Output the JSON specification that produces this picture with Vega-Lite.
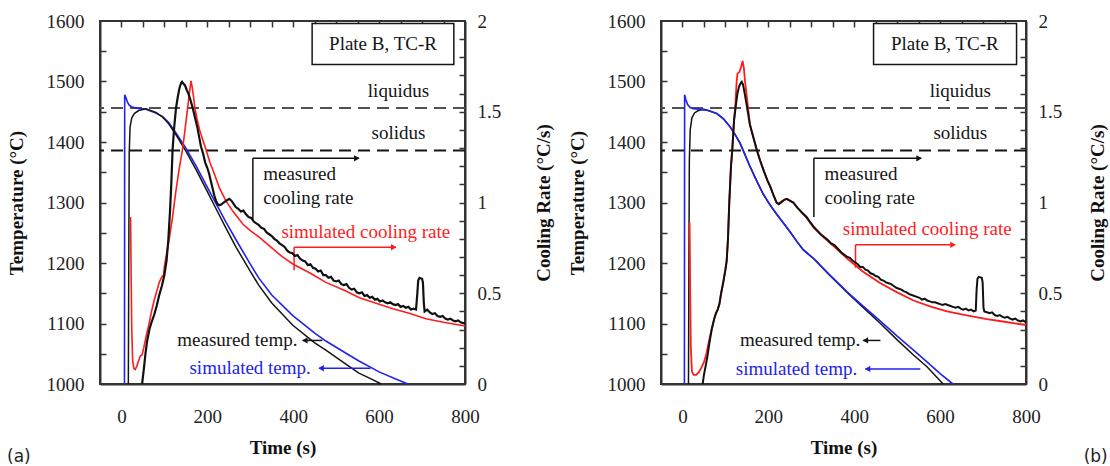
{
"$schema": "https://vega.github.io/schema/vega-lite/v6.json",
"padding": {"left": 6, "top": 11, "right": 0, "bottom": 0},
"spacing": 12,
"config": {
 "view": {"stroke": "#333333", "strokeWidth": 2},
 "font": "Liberation Serif",
 "axis": {"grid": false, "domainColor": "#333333", "domainWidth": 2, "tickColor": "#333333", "tickWidth": 1.5, "labelFont": "Liberation Serif", "labelFontSize": 19, "labelColor": "#222222", "titleFont": "Liberation Serif", "titleFontSize": 19, "titleFontWeight": "bold", "titleColor": "#111111", "labelFlush": false},
 "text": {"font": "Liberation Serif", "fontSize": 19},
 "title": {"font": "DejaVu Sans", "fontSize": 17, "fontWeight": "normal", "color": "#222222"}
},
"datasets": {
 "tempA": [
  {"t":7,"T":1000,"s":"sT"},{"t":7.5,"T":1478,"s":"sT"},{"t":10,"T":1474,"s":"sT"},{"t":14,"T":1466,"s":"sT"},{"t":18,"T":1461,"s":"sT"},{"t":24,"T":1458,"s":"sT"},{"t":35,"T":1456,"s":"sT"},{"t":57,"T":1454,"s":"sT"},{"t":80,"T":1448,"s":"sT"},{"t":96,"T":1442,"s":"sT"},{"t":110,"T":1432,"s":"sT"},{"t":127,"T":1415,"s":"sT"},{"t":150,"T":1390,"s":"sT"},{"t":174,"T":1360,"s":"sT"},{"t":200,"T":1325,"s":"sT"},{"t":225,"T":1292,"s":"sT"},{"t":243,"T":1268,"s":"sT"},{"t":267,"T":1238,"s":"sT"},{"t":300,"T":1198,"s":"sT"},{"t":320,"T":1175,"s":"sT"},{"t":350,"T":1147,"s":"sT"},{"t":399,"T":1113,"s":"sT"},{"t":450,"T":1084,"s":"sT"},{"t":476,"T":1071,"s":"sT"},{"t":520,"T":1052,"s":"sT"},{"t":553,"T":1038,"s":"sT"},{"t":600,"T":1020,"s":"sT"},{"t":640,"T":1008,"s":"sT"},{"t":667,"T":1000,"s":"sT"},
  {"t":16,"T":1000,"s":"mT"},{"t":17,"T":1200,"s":"mT"},{"t":18,"T":1380,"s":"mT"},{"t":20,"T":1425,"s":"mT"},{"t":24,"T":1440,"s":"mT"},{"t":30,"T":1447,"s":"mT"},{"t":40,"T":1452,"s":"mT"},{"t":57,"T":1455,"s":"mT"},{"t":80,"T":1449,"s":"mT"},{"t":96,"T":1441,"s":"mT"},{"t":110,"T":1430,"s":"mT"},{"t":127,"T":1412,"s":"mT"},{"t":150,"T":1385,"s":"mT"},{"t":174,"T":1354,"s":"mT"},{"t":200,"T":1318,"s":"mT"},{"t":225,"T":1283,"s":"mT"},{"t":243,"T":1258,"s":"mT"},{"t":267,"T":1226,"s":"mT"},{"t":300,"T":1186,"s":"mT"},{"t":320,"T":1163,"s":"mT"},{"t":350,"T":1134,"s":"mT"},{"t":399,"T":1097,"s":"mT"},{"t":450,"T":1068,"s":"mT"},{"t":476,"T":1056,"s":"mT"},{"t":520,"T":1034,"s":"mT"},{"t":553,"T":1018,"s":"mT"},{"t":580,"T":1009,"s":"mT"},{"t":605,"T":1000,"s":"mT"}
 ],
 "crA": [
  {"t":21,"CR":0.92,"s":"sCR"},{"t":21.5,"CR":0.85,"s":"sCR"},{"t":22.5,"CR":0.6,"s":"sCR"},{"t":24,"CR":0.3,"s":"sCR"},{"t":26,"CR":0.13,"s":"sCR"},{"t":29,"CR":0.085,"s":"sCR"},{"t":32,"CR":0.08,"s":"sCR"},{"t":36,"CR":0.1,"s":"sCR"},{"t":40,"CR":0.13,"s":"sCR"},{"t":44,"CR":0.155,"s":"sCR"},{"t":48,"CR":0.16,"s":"sCR"},{"t":52,"CR":0.2,"s":"sCR"},{"t":58,"CR":0.27,"s":"sCR"},{"t":64,"CR":0.33,"s":"sCR"},{"t":70,"CR":0.4,"s":"sCR"},{"t":76,"CR":0.46,"s":"sCR"},{"t":82,"CR":0.51,"s":"sCR"},{"t":88,"CR":0.56,"s":"sCR"},{"t":94,"CR":0.59,"s":"sCR"},{"t":98,"CR":0.6,"s":"sCR"},{"t":100,"CR":0.65,"s":"sCR"},{"t":106,"CR":0.73,"s":"sCR"},{"t":112,"CR":0.81,"s":"sCR"},{"t":119,"CR":0.92,"s":"sCR"},{"t":126,"CR":1.05,"s":"sCR"},{"t":134,"CR":1.18,"s":"sCR"},{"t":142,"CR":1.29,"s":"sCR"},{"t":148,"CR":1.4,"s":"sCR"},{"t":154,"CR":1.52,"s":"sCR"},{"t":158,"CR":1.6,"s":"sCR"},{"t":162,"CR":1.67,"s":"sCR"},{"t":165,"CR":1.63,"s":"sCR"},{"t":168,"CR":1.58,"s":"sCR"},{"t":171,"CR":1.52,"s":"sCR"},{"t":176,"CR":1.46,"s":"sCR"},{"t":182,"CR":1.4,"s":"sCR"},{"t":190,"CR":1.34,"s":"sCR"},{"t":197,"CR":1.29,"s":"sCR"},{"t":206,"CR":1.22,"s":"sCR"},{"t":216,"CR":1.16,"s":"sCR"},{"t":228,"CR":1.08,"s":"sCR"},{"t":243,"CR":1.01,"s":"sCR"},{"t":260,"CR":0.95,"s":"sCR"},{"t":283,"CR":0.88,"s":"sCR"},{"t":300,"CR":0.845,"s":"sCR"},{"t":320,"CR":0.81,"s":"sCR"},{"t":350,"CR":0.75,"s":"sCR"},{"t":375,"CR":0.7,"s":"sCR"},{"t":400,"CR":0.66,"s":"sCR"},{"t":440,"CR":0.61,"s":"sCR"},{"t":476,"CR":0.56,"s":"sCR"},{"t":520,"CR":0.515,"s":"sCR"},{"t":554,"CR":0.475,"s":"sCR"},{"t":600,"CR":0.44,"s":"sCR"},{"t":632,"CR":0.415,"s":"sCR"},{"t":670,"CR":0.39,"s":"sCR"},{"t":709,"CR":0.36,"s":"sCR"},{"t":750,"CR":0.34,"s":"sCR"},{"t":800,"CR":0.32,"s":"sCR"},
  {"t":48,"CR":0,"s":"mCR"},{"t":52,"CR":0.08,"s":"mCR"},{"t":56,"CR":0.17,"s":"mCR"},{"t":60,"CR":0.24,"s":"mCR"},{"t":65,"CR":0.3,"s":"mCR"},{"t":70,"CR":0.34,"s":"mCR"},{"t":76,"CR":0.38,"s":"mCR"},{"t":82,"CR":0.43,"s":"mCR"},{"t":88,"CR":0.49,"s":"mCR"},{"t":94,"CR":0.54,"s":"mCR"},{"t":100,"CR":0.6,"s":"mCR"},{"t":105,"CR":0.68,"s":"mCR"},{"t":109,"CR":0.79,"s":"mCR"},{"t":113,"CR":0.95,"s":"mCR"},{"t":116,"CR":1.1,"s":"mCR"},{"t":119,"CR":1.29,"s":"mCR"},{"t":123,"CR":1.42,"s":"mCR"},{"t":127,"CR":1.52,"s":"mCR"},{"t":131,"CR":1.58,"s":"mCR"},{"t":135,"CR":1.63,"s":"mCR"},{"t":139,"CR":1.66,"s":"mCR"},{"t":141,"CR":1.665,"s":"mCR"},{"t":144,"CR":1.655,"s":"mCR"},{"t":148,"CR":1.645,"s":"mCR"},{"t":152,"CR":1.62,"s":"mCR"},{"t":156,"CR":1.6,"s":"mCR"},{"t":160,"CR":1.57,"s":"mCR"},{"t":166,"CR":1.52,"s":"mCR"},{"t":172,"CR":1.46,"s":"mCR"},{"t":177,"CR":1.41,"s":"mCR"},{"t":181,"CR":1.36,"s":"mCR"},{"t":185,"CR":1.31,"s":"mCR"},{"t":190,"CR":1.27,"s":"mCR"},{"t":195,"CR":1.22,"s":"mCR"},{"t":200,"CR":1.19,"s":"mCR"},{"t":204,"CR":1.16,"s":"mCR"},{"t":208,"CR":1.12,"s":"mCR"},{"t":212,"CR":1.08,"s":"mCR"},{"t":216,"CR":1.04,"s":"mCR"},{"t":220,"CR":1.01,"s":"mCR"},{"t":224,"CR":0.99,"s":"mCR"},{"t":228,"CR":0.985,"s":"mCR"},{"t":233,"CR":0.99,"s":"mCR"},{"t":238,"CR":1.0,"s":"mCR"},{"t":244,"CR":1.01,"s":"mCR"},{"t":251,"CR":1.02,"s":"mCR"},{"t":256,"CR":1.01,"s":"mCR"},{"t":262,"CR":0.99,"s":"mCR"},
  {"t":266,"CR":0.975,"s":"mCR"},{"t":272,"CR":0.965,"s":"mCR"},{"t":278,"CR":0.95,"s":"mCR"},{"t":284,"CR":0.955,"s":"mCR"},{"t":290,"CR":0.935,"s":"mCR"},{"t":296,"CR":0.92,"s":"mCR"},{"t":302,"CR":0.915,"s":"mCR"},{"t":308,"CR":0.895,"s":"mCR"},{"t":314,"CR":0.885,"s":"mCR"},{"t":320,"CR":0.875,"s":"mCR"},{"t":326,"CR":0.86,"s":"mCR"},{"t":332,"CR":0.855,"s":"mCR"},{"t":338,"CR":0.835,"s":"mCR"},{"t":344,"CR":0.825,"s":"mCR"},{"t":350,"CR":0.815,"s":"mCR"},{"t":356,"CR":0.8,"s":"mCR"},{"t":362,"CR":0.79,"s":"mCR"},{"t":368,"CR":0.775,"s":"mCR"},{"t":374,"CR":0.765,"s":"mCR"},{"t":380,"CR":0.755,"s":"mCR"},{"t":386,"CR":0.735,"s":"mCR"},{"t":392,"CR":0.725,"s":"mCR"},{"t":398,"CR":0.72,"s":"mCR"},{"t":404,"CR":0.705,"s":"mCR"},{"t":410,"CR":0.71,"s":"mCR"},{"t":416,"CR":0.69,"s":"mCR"},{"t":422,"CR":0.68,"s":"mCR"},{"t":428,"CR":0.675,"s":"mCR"},{"t":434,"CR":0.655,"s":"mCR"},{"t":440,"CR":0.66,"s":"mCR"},{"t":446,"CR":0.64,"s":"mCR"},{"t":452,"CR":0.635,"s":"mCR"},{"t":458,"CR":0.62,"s":"mCR"},{"t":464,"CR":0.625,"s":"mCR"},{"t":470,"CR":0.6,"s":"mCR"},{"t":476,"CR":0.6,"s":"mCR"},{"t":482,"CR":0.585,"s":"mCR"},{"t":488,"CR":0.59,"s":"mCR"},{"t":494,"CR":0.57,"s":"mCR"},{"t":500,"CR":0.565,"s":"mCR"},{"t":506,"CR":0.57,"s":"mCR"},{"t":512,"CR":0.55,"s":"mCR"},{"t":518,"CR":0.545,"s":"mCR"},{"t":524,"CR":0.55,"s":"mCR"},{"t":530,"CR":0.53,"s":"mCR"},{"t":536,"CR":0.52,"s":"mCR"},{"t":542,"CR":0.525,"s":"mCR"},{"t":548,"CR":0.505,"s":"mCR"},{"t":554,"CR":0.5,"s":"mCR"},{"t":560,"CR":0.505,"s":"mCR"},{"t":566,"CR":0.485,"s":"mCR"},{"t":572,"CR":0.49,"s":"mCR"},{"t":578,"CR":0.475,"s":"mCR"},{"t":584,"CR":0.48,"s":"mCR"},{"t":590,"CR":0.465,"s":"mCR"},{"t":596,"CR":0.47,"s":"mCR"},{"t":602,"CR":0.455,"s":"mCR"},{"t":608,"CR":0.46,"s":"mCR"},{"t":614,"CR":0.45,"s":"mCR"},{"t":620,"CR":0.445,"s":"mCR"},{"t":626,"CR":0.45,"s":"mCR"},{"t":632,"CR":0.44,"s":"mCR"},{"t":638,"CR":0.435,"s":"mCR"},{"t":644,"CR":0.44,"s":"mCR"},{"t":650,"CR":0.425,"s":"mCR"},{"t":656,"CR":0.43,"s":"mCR"},{"t":662,"CR":0.42,"s":"mCR"},{"t":668,"CR":0.425,"s":"mCR"},{"t":674,"CR":0.41,"s":"mCR"},{"t":680,"CR":0.415,"s":"mCR"},{"t":686,"CR":0.41,"s":"mCR"},{"t":689,"CR":0.5,"s":"mCR"},{"t":691,"CR":0.57,"s":"mCR"},{"t":694,"CR":0.585,"s":"mCR"},{"t":700,"CR":0.58,"s":"mCR"},{"t":702,"CR":0.56,"s":"mCR"},{"t":704,"CR":0.45,"s":"mCR"},{"t":706,"CR":0.4,"s":"mCR"},{"t":712,"CR":0.41,"s":"mCR"},{"t":718,"CR":0.395,"s":"mCR"},{"t":724,"CR":0.385,"s":"mCR"},{"t":730,"CR":0.39,"s":"mCR"},{"t":736,"CR":0.375,"s":"mCR"},{"t":742,"CR":0.37,"s":"mCR"},{"t":748,"CR":0.375,"s":"mCR"},{"t":754,"CR":0.36,"s":"mCR"},{"t":760,"CR":0.355,"s":"mCR"},{"t":766,"CR":0.36,"s":"mCR"},{"t":772,"CR":0.35,"s":"mCR"},{"t":778,"CR":0.345,"s":"mCR"},{"t":784,"CR":0.35,"s":"mCR"},{"t":790,"CR":0.34,"s":"mCR"},{"t":796,"CR":0.335,"s":"mCR"},{"t":800,"CR":0.335,"s":"mCR"}
 ],
 "tempB": [
  {"t":4.5,"T":1000,"s":"sT"},{"t":5,"T":1478,"s":"sT"},{"t":8,"T":1470,"s":"sT"},{"t":12,"T":1462,"s":"sT"},{"t":18,"T":1457,"s":"sT"},{"t":25,"T":1455,"s":"sT"},{"t":37,"T":1454,"s":"sT"},{"t":60,"T":1452,"s":"sT"},{"t":80,"T":1447,"s":"sT"},{"t":96,"T":1438,"s":"sT"},{"t":111,"T":1425,"s":"sT"},{"t":122,"T":1413,"s":"sT"},{"t":134,"T":1398,"s":"sT"},{"t":145,"T":1380,"s":"sT"},{"t":157,"T":1360,"s":"sT"},{"t":172,"T":1337,"s":"sT"},{"t":188,"T":1314,"s":"sT"},{"t":203,"T":1297,"s":"sT"},{"t":219,"T":1281,"s":"sT"},{"t":235,"T":1266,"s":"sT"},{"t":250,"T":1252,"s":"sT"},{"t":265,"T":1237,"s":"sT"},{"t":281,"T":1222,"s":"sT"},{"t":306,"T":1207,"s":"sT"},{"t":340,"T":1182,"s":"sT"},{"t":384,"T":1152,"s":"sT"},{"t":420,"T":1129,"s":"sT"},{"t":461,"T":1104,"s":"sT"},{"t":500,"T":1079,"s":"sT"},{"t":538,"T":1056,"s":"sT"},{"t":570,"T":1036,"s":"sT"},{"t":600,"T":1017,"s":"sT"},{"t":630,"T":1000,"s":"sT"},
  {"t":14,"T":1000,"s":"mT"},{"t":15,"T":1200,"s":"mT"},{"t":16,"T":1370,"s":"mT"},{"t":18,"T":1420,"s":"mT"},{"t":22,"T":1440,"s":"mT"},{"t":28,"T":1448,"s":"mT"},{"t":37,"T":1452,"s":"mT"},{"t":50,"T":1454,"s":"mT"},{"t":60,"T":1452,"s":"mT"},{"t":80,"T":1447,"s":"mT"},{"t":96,"T":1438,"s":"mT"},{"t":111,"T":1425,"s":"mT"},{"t":122,"T":1413,"s":"mT"},{"t":134,"T":1398,"s":"mT"},{"t":145,"T":1380,"s":"mT"},{"t":157,"T":1360,"s":"mT"},{"t":172,"T":1337,"s":"mT"},{"t":188,"T":1314,"s":"mT"},{"t":203,"T":1297,"s":"mT"},{"t":219,"T":1281,"s":"mT"},{"t":235,"T":1266,"s":"mT"},{"t":250,"T":1252,"s":"mT"},{"t":265,"T":1237,"s":"mT"},{"t":281,"T":1222,"s":"mT"},{"t":306,"T":1207,"s":"mT"},{"t":340,"T":1182,"s":"mT"},{"t":384,"T":1151,"s":"mT"},{"t":420,"T":1127,"s":"mT"},{"t":461,"T":1100,"s":"mT"},{"t":500,"T":1073,"s":"mT"},{"t":538,"T":1048,"s":"mT"},{"t":570,"T":1028,"s":"mT"},{"t":607,"T":1000,"s":"mT"}
 ],
 "crB": [
  {"t":16.5,"CR":0.89,"s":"sCR"},{"t":17,"CR":0.8,"s":"sCR"},{"t":18,"CR":0.5,"s":"sCR"},{"t":19.5,"CR":0.2,"s":"sCR"},{"t":22,"CR":0.07,"s":"sCR"},{"t":26,"CR":0.05,"s":"sCR"},{"t":32,"CR":0.05,"s":"sCR"},{"t":38,"CR":0.065,"s":"sCR"},{"t":44,"CR":0.09,"s":"sCR"},{"t":50,"CR":0.12,"s":"sCR"},{"t":56,"CR":0.17,"s":"sCR"},{"t":62,"CR":0.24,"s":"sCR"},{"t":68,"CR":0.3,"s":"sCR"},{"t":74,"CR":0.36,"s":"sCR"},{"t":78,"CR":0.39,"s":"sCR"},{"t":82,"CR":0.41,"s":"sCR"},{"t":86,"CR":0.44,"s":"sCR"},{"t":90,"CR":0.5,"s":"sCR"},{"t":95,"CR":0.56,"s":"sCR"},{"t":100,"CR":0.63,"s":"sCR"},{"t":103,"CR":0.68,"s":"sCR"},{"t":106,"CR":0.8,"s":"sCR"},{"t":109,"CR":1.0,"s":"sCR"},{"t":113,"CR":1.2,"s":"sCR"},{"t":116,"CR":1.29,"s":"sCR"},{"t":120,"CR":1.45,"s":"sCR"},{"t":123,"CR":1.53,"s":"sCR"},{"t":126,"CR":1.66,"s":"sCR"},{"t":128,"CR":1.71,"s":"sCR"},{"t":133,"CR":1.72,"s":"sCR"},{"t":137,"CR":1.75,"s":"sCR"},{"t":140,"CR":1.78,"s":"sCR"},{"t":143,"CR":1.74,"s":"sCR"},{"t":146,"CR":1.66,"s":"sCR"},{"t":150,"CR":1.58,"s":"sCR"},{"t":157,"CR":1.43,"s":"sCR"},{"t":165,"CR":1.36,"s":"sCR"},{"t":173,"CR":1.29,"s":"sCR"},{"t":181,"CR":1.23,"s":"sCR"},{"t":190,"CR":1.17,"s":"sCR"},{"t":198,"CR":1.12,"s":"sCR"},{"t":204,"CR":1.09,"s":"sCR"},{"t":212,"CR":1.04,"s":"sCR"},{"t":219,"CR":1.0,"s":"sCR"},{"t":224,"CR":0.995,"s":"sCR"},{"t":230,"CR":1.005,"s":"sCR"},{"t":237,"CR":1.015,"s":"sCR"},{"t":243,"CR":1.02,"s":"sCR"},{"t":250,"CR":1.01,"s":"sCR"},{"t":258,"CR":1.0,"s":"sCR"},{"t":268,"CR":0.97,"s":"sCR"},{"t":278,"CR":0.945,"s":"sCR"},{"t":289,"CR":0.915,"s":"sCR"},{"t":306,"CR":0.86,"s":"sCR"},{"t":328,"CR":0.81,"s":"sCR"},{"t":359,"CR":0.745,"s":"sCR"},{"t":384,"CR":0.69,"s":"sCR"},{"t":420,"CR":0.62,"s":"sCR"},{"t":461,"CR":0.555,"s":"sCR"},{"t":500,"CR":0.505,"s":"sCR"},{"t":538,"CR":0.46,"s":"sCR"},{"t":580,"CR":0.425,"s":"sCR"},{"t":616,"CR":0.4,"s":"sCR"},{"t":662,"CR":0.378,"s":"sCR"},{"t":709,"CR":0.358,"s":"sCR"},{"t":750,"CR":0.343,"s":"sCR"},{"t":800,"CR":0.325,"s":"sCR"},
  {"t":47,"CR":0,"s":"mCR"},{"t":50,"CR":0.05,"s":"mCR"},{"t":54,"CR":0.1,"s":"mCR"},{"t":58,"CR":0.15,"s":"mCR"},{"t":63,"CR":0.23,"s":"mCR"},{"t":68,"CR":0.3,"s":"mCR"},{"t":74,"CR":0.36,"s":"mCR"},{"t":78,"CR":0.39,"s":"mCR"},{"t":82,"CR":0.41,"s":"mCR"},{"t":86,"CR":0.44,"s":"mCR"},{"t":90,"CR":0.5,"s":"mCR"},{"t":95,"CR":0.56,"s":"mCR"},{"t":100,"CR":0.63,"s":"mCR"},{"t":103,"CR":0.68,"s":"mCR"},{"t":106,"CR":0.8,"s":"mCR"},{"t":109,"CR":1.0,"s":"mCR"},{"t":113,"CR":1.2,"s":"mCR"},{"t":116,"CR":1.29,"s":"mCR"},{"t":120,"CR":1.45,"s":"mCR"},{"t":124,"CR":1.53,"s":"mCR"},{"t":128,"CR":1.6,"s":"mCR"},{"t":132,"CR":1.64,"s":"mCR"},{"t":136,"CR":1.66,"s":"mCR"},{"t":138,"CR":1.665,"s":"mCR"},{"t":141,"CR":1.65,"s":"mCR"},{"t":145,"CR":1.6,"s":"mCR"},{"t":150,"CR":1.53,"s":"mCR"},{"t":157,"CR":1.43,"s":"mCR"},{"t":165,"CR":1.36,"s":"mCR"},{"t":173,"CR":1.29,"s":"mCR"},{"t":181,"CR":1.23,"s":"mCR"},{"t":190,"CR":1.17,"s":"mCR"},{"t":198,"CR":1.12,"s":"mCR"},{"t":204,"CR":1.09,"s":"mCR"},{"t":212,"CR":1.04,"s":"mCR"},{"t":219,"CR":1.0,"s":"mCR"},{"t":224,"CR":0.99,"s":"mCR"},{"t":230,"CR":1.0,"s":"mCR"},{"t":237,"CR":1.015,"s":"mCR"},{"t":243,"CR":1.02,"s":"mCR"},{"t":250,"CR":1.01,"s":"mCR"},{"t":258,"CR":1.0,"s":"mCR"},{"t":268,"CR":0.97,"s":"mCR"},{"t":278,"CR":0.945,"s":"mCR"},{"t":289,"CR":0.92,"s":"mCR"},{"t":298,"CR":0.89,"s":"mCR"},{"t":306,"CR":0.865,"s":"mCR"},{"t":314,"CR":0.845,"s":"mCR"},{"t":322,"CR":0.825,"s":"mCR"},{"t":330,"CR":0.81,"s":"mCR"},{"t":338,"CR":0.795,"s":"mCR"},{"t":346,"CR":0.775,"s":"mCR"},{"t":354,"CR":0.765,"s":"mCR"},{"t":362,"CR":0.745,"s":"mCR"},{"t":370,"CR":0.725,"s":"mCR"},{"t":378,"CR":0.71,"s":"mCR"},{"t":384,"CR":0.7,"s":"mCR"},{"t":390,"CR":0.695,"s":"mCR"},{"t":396,"CR":0.68,"s":"mCR"},{"t":402,"CR":0.67,"s":"mCR"},{"t":408,"CR":0.66,"s":"mCR"},{"t":414,"CR":0.645,"s":"mCR"},{"t":420,"CR":0.645,"s":"mCR"},{"t":426,"CR":0.63,"s":"mCR"},{"t":432,"CR":0.625,"s":"mCR"},{"t":438,"CR":0.61,"s":"mCR"},{"t":444,"CR":0.605,"s":"mCR"},{"t":450,"CR":0.595,"s":"mCR"},{"t":456,"CR":0.59,"s":"mCR"},{"t":462,"CR":0.575,"s":"mCR"},{"t":468,"CR":0.57,"s":"mCR"},{"t":474,"CR":0.56,"s":"mCR"},{"t":480,"CR":0.555,"s":"mCR"},{"t":486,"CR":0.55,"s":"mCR"},{"t":492,"CR":0.54,"s":"mCR"},{"t":498,"CR":0.53,"s":"mCR"},{"t":504,"CR":0.525,"s":"mCR"},{"t":510,"CR":0.52,"s":"mCR"},{"t":516,"CR":0.51,"s":"mCR"},{"t":522,"CR":0.505,"s":"mCR"},{"t":528,"CR":0.495,"s":"mCR"},{"t":534,"CR":0.49,"s":"mCR"},{"t":540,"CR":0.485,"s":"mCR"},{"t":546,"CR":0.48,"s":"mCR"},{"t":552,"CR":0.475,"s":"mCR"},{"t":558,"CR":0.465,"s":"mCR"},{"t":564,"CR":0.47,"s":"mCR"},{"t":570,"CR":0.46,"s":"mCR"},{"t":576,"CR":0.455,"s":"mCR"},{"t":582,"CR":0.45,"s":"mCR"},{"t":588,"CR":0.45,"s":"mCR"},{"t":594,"CR":0.445,"s":"mCR"},{"t":600,"CR":0.44,"s":"mCR"},{"t":606,"CR":0.435,"s":"mCR"},{"t":612,"CR":0.44,"s":"mCR"},{"t":618,"CR":0.435,"s":"mCR"},{"t":624,"CR":0.43,"s":"mCR"},{"t":630,"CR":0.425,"s":"mCR"},{"t":636,"CR":0.42,"s":"mCR"},{"t":642,"CR":0.425,"s":"mCR"},{"t":648,"CR":0.415,"s":"mCR"},{"t":654,"CR":0.41,"s":"mCR"},{"t":660,"CR":0.415,"s":"mCR"},{"t":666,"CR":0.405,"s":"mCR"},{"t":672,"CR":0.41,"s":"mCR"},{"t":678,"CR":0.4,"s":"mCR"},{"t":683,"CR":0.405,"s":"mCR"},{"t":685,"CR":0.52,"s":"mCR"},{"t":687,"CR":0.58,"s":"mCR"},{"t":690,"CR":0.59,"s":"mCR"},{"t":697,"CR":0.585,"s":"mCR"},{"t":699,"CR":0.56,"s":"mCR"},{"t":701,"CR":0.42,"s":"mCR"},{"t":703,"CR":0.4,"s":"mCR"},{"t":709,"CR":0.395,"s":"mCR"},{"t":715,"CR":0.39,"s":"mCR"},{"t":721,"CR":0.395,"s":"mCR"},{"t":727,"CR":0.38,"s":"mCR"},{"t":733,"CR":0.375,"s":"mCR"},{"t":739,"CR":0.38,"s":"mCR"},{"t":745,"CR":0.37,"s":"mCR"},{"t":751,"CR":0.365,"s":"mCR"},{"t":757,"CR":0.37,"s":"mCR"},{"t":763,"CR":0.36,"s":"mCR"},{"t":769,"CR":0.355,"s":"mCR"},{"t":775,"CR":0.36,"s":"mCR"},{"t":781,"CR":0.35,"s":"mCR"},{"t":787,"CR":0.345,"s":"mCR"},{"t":793,"CR":0.35,"s":"mCR"},{"t":800,"CR":0.34,"s":"mCR"}
 ]
},
"hconcat": [
 {
  "width": 365, "height": 363,
  "title": {"text": "(a)", "orient": "bottom", "anchor": "start", "offset": -8},
  "resolve": {"scale": {"y": "independent"}, "axis": {"x": "independent", "y": "independent"}},
  "layer": [
   {"data": {"values": [{"T":1456,"s":"liq"},{"T":1386,"s":"sol"}]},
    "mark": {"type": "rule", "strokeDash": [12, 7], "strokeWidth": 2},
    "encoding": {
     "y": {"field": "T", "type": "quantitative", "scale": {"domain": [1000, 1600], "nice": false, "zero": false}, "axis": {"orient": "left", "title": "Temperature (°C)", "values": [1000,1100,1200,1300,1400,1500,1600], "format": "d", "ticks": false, "labelOverlap": false, "labelPadding": 16, "titlePadding": 20}},
     "color": {"field": "s", "type": "nominal", "legend": null, "scale": {"domain": ["mT","sT","mCR","sCR","note","liq","sol"], "range": ["#151515","#2222ee","#111111","#ff1c1c","#151515","#505050","#151515"]}}
    }},
   {"data": {"name": "tempA"}, "transform": [{"filter": "datum.s == 'sT'"}],
    "mark": {"type": "line", "strokeWidth": 1.6},
    "encoding": {
     "x": {"field": "t", "type": "quantitative", "scale": {"domain": [-50, 800], "nice": false, "zero": false}, "axis": {"title": "Time (s)", "values": [0,200,400,600,800], "format": "d", "ticks": false, "labelOverlap": false, "labelPadding": 23, "titlePadding": 12}},
     "y": {"field": "T", "type": "quantitative", "scale": {"domain": [1000, 1600], "nice": false, "zero": false}, "axis": {"orient": "left", "values": [1050,1100,1150,1200,1250,1300,1350,1400,1450,1500,1550], "labels": false, "domain": false, "title": null, "ticks": true, "tickSize": 6, "offset": -6}},
     "color": {"field": "s", "type": "nominal", "legend": null}
    }},
   {"data": {"name": "tempA"}, "transform": [{"filter": "datum.s == 'mT'"}],
    "mark": {"type": "line", "strokeWidth": 1.5},
    "encoding": {
     "x": {"field": "t", "type": "quantitative", "axis": {"values": [0,50,100,150,200,250,300,350,400,450,500,550,600,650,700,750], "labels": false, "domain": false, "title": null, "ticks": true, "tickSize": 6, "offset": -6}},
     "y": {"field": "T", "type": "quantitative", "scale": {"domain": [1000, 1600], "nice": false, "zero": false}, "axis": null},
     "color": {"field": "s", "type": "nominal", "legend": null}
    }},
   {"data": {"values": [{"t":444,"t2":774,"T":1528,"T2":1596}]},
    "mark": {"type": "rect", "fill": "white", "stroke": "#151515", "strokeWidth": 1.5},
    "encoding": {
     "x": {"field": "t", "type": "quantitative", "axis": null}, "x2": {"field": "t2"},
     "y": {"field": "T", "type": "quantitative", "scale": {"domain": [1000, 1600], "nice": false, "zero": false}, "axis": null}, "y2": {"field": "T2"}
    }},
   {"data": {"values": [{"t":645,"T":1485,"label":"liquidus","s":"note"},{"t":645,"T":1415,"label":"solidus","s":"note"},{"t":569,"T":1251,"label":"simulated cooling rate","s":"sCR"},{"t":609,"T":1562,"label":"Plate B, TC-R","s":"note"}]},
    "mark": {"type": "text", "align": "center", "baseline": "middle"},
    "encoding": {
     "x": {"field": "t", "type": "quantitative", "axis": null},
     "y": {"field": "T", "type": "quantitative", "scale": {"domain": [1000, 1600], "nice": false, "zero": false}, "axis": null},
     "text": {"field": "label"},
     "color": {"field": "s", "type": "nominal", "legend": null}
    }},
   {"data": {"values": [{"t":330,"T":1347,"label":"measured","s":"note"},{"t":330,"T":1307,"label":"cooling rate","s":"note"}]},
    "mark": {"type": "text", "align": "left", "baseline": "middle"},
    "encoding": {
     "x": {"field": "t", "type": "quantitative", "axis": null},
     "y": {"field": "T", "type": "quantitative", "scale": {"domain": [1000, 1600], "nice": false, "zero": false}, "axis": null},
     "text": {"field": "label"},
     "color": {"field": "s", "type": "nominal", "legend": null}
    }},
   {"data": {"values": [{"t":410,"T":1072,"label":"measured temp.","s":"mT"},{"t":441,"T":1026,"label":"simulated temp.","s":"sT"}]},
    "mark": {"type": "text", "align": "right", "baseline": "middle"},
    "encoding": {
     "x": {"field": "t", "type": "quantitative", "axis": null},
     "y": {"field": "T", "type": "quantitative", "scale": {"domain": [1000, 1600], "nice": false, "zero": false}, "axis": null},
     "text": {"field": "label"},
     "color": {"field": "s", "type": "nominal", "legend": null}
    }},
   {"data": {"values": [{"t":306,"T":1271,"t2":306,"T2":1373,"s":"mCR"},{"t":306,"T":1373,"t2":553,"T2":1373,"s":"mCR"},{"t":402,"T":1188,"t2":402,"T2":1226,"s":"sCR"},{"t":402,"T":1226,"t2":639,"T2":1226,"s":"sCR"},{"t":422,"T":1072,"t2":468,"T2":1072,"s":"mT"},{"t":460,"T":1026,"t2":580,"T2":1026,"s":"sT"}]},
    "mark": {"type": "rule", "strokeWidth": 1.5},
    "encoding": {
     "x": {"field": "t", "type": "quantitative", "axis": null}, "x2": {"field": "t2"},
     "y": {"field": "T", "type": "quantitative", "scale": {"domain": [1000, 1600], "nice": false, "zero": false}, "axis": null}, "y2": {"field": "T2"},
     "color": {"field": "s", "type": "nominal", "legend": null}
    }},
   {"data": {"values": [{"t":548,"T":1373,"s":"mCR","dir":"right"},{"t":634,"T":1226,"s":"sCR","dir":"right"},{"t":427,"T":1072,"s":"mT","dir":"left"},{"t":465,"T":1026,"s":"sT","dir":"left"}]},
    "mark": {"type": "point", "filled": true, "opacity": 1, "size": 40},
    "encoding": {
     "x": {"field": "t", "type": "quantitative", "axis": null},
     "y": {"field": "T", "type": "quantitative", "scale": {"domain": [1000, 1600], "nice": false, "zero": false}, "axis": null},
     "shape": {"field": "dir", "type": "nominal", "legend": null, "scale": {"domain": ["right","left"], "range": ["triangle-right","triangle-left"]}},
     "color": {"field": "s", "type": "nominal", "legend": null}
    }},
   {"data": {"name": "crA"}, "transform": [{"filter": "datum.s == 'sCR'"}],
    "mark": {"type": "line", "strokeWidth": 1.6},
    "encoding": {
     "x": {"field": "t", "type": "quantitative", "axis": null},
     "y": {"field": "CR", "type": "quantitative", "scale": {"domain": [0, 2], "nice": false, "zero": false}, "axis": {"orient": "right", "title": "Cooling Rate (°C/s)", "titleAngle": 270, "titleBaseline": "top", "values": [0,0.5,1,1.5,2], "format": "~g", "ticks": false, "labelOverlap": false, "labelPadding": 12, "titlePadding": 34}},
     "color": {"field": "s", "type": "nominal", "legend": null}
    }},
   {"data": {"name": "crA"}, "transform": [{"filter": "datum.s == 'mCR'"}],
    "mark": {"type": "line", "strokeWidth": 2.2},
    "encoding": {
     "x": {"field": "t", "type": "quantitative", "axis": null},
     "y": {"field": "CR", "type": "quantitative", "scale": {"domain": [0, 2], "nice": false, "zero": false}, "axis": {"orient": "right", "values": [0.1,0.2,0.3,0.4,0.5,0.6,0.7,0.8,0.9,1,1.1,1.2,1.3,1.4,1.5,1.6,1.7,1.8,1.9], "labels": false, "domain": false, "title": null, "ticks": true, "tickSize": 6, "offset": -6}},
     "color": {"field": "s", "type": "nominal", "legend": null}
    }}
  ]
 },
 {
  "width": 365, "height": 363,
  "title": {"text": "(b)", "orient": "bottom", "anchor": "end", "offset": -8},
  "resolve": {"scale": {"y": "independent"}, "axis": {"x": "independent", "y": "independent"}},
  "layer": [
   {"data": {"values": [{"T":1456,"s":"liq"},{"T":1386,"s":"sol"}]},
    "mark": {"type": "rule", "strokeDash": [12, 7], "strokeWidth": 2},
    "encoding": {
     "y": {"field": "T", "type": "quantitative", "scale": {"domain": [1000, 1600], "nice": false, "zero": false}, "axis": {"orient": "left", "title": "Temperature (°C)", "values": [1000,1100,1200,1300,1400,1500,1600], "format": "d", "ticks": false, "labelOverlap": false, "labelPadding": 16, "titlePadding": 20}},
     "color": {"field": "s", "type": "nominal", "legend": null, "scale": {"domain": ["mT","sT","mCR","sCR","note","liq","sol"], "range": ["#151515","#2222ee","#111111","#ff1c1c","#151515","#505050","#151515"]}}
    }},
   {"data": {"name": "tempB"}, "transform": [{"filter": "datum.s == 'mT'"}],
    "mark": {"type": "line", "strokeWidth": 1.5},
    "encoding": {
     "x": {"field": "t", "type": "quantitative", "scale": {"domain": [-50, 800], "nice": false, "zero": false}, "axis": {"title": "Time (s)", "values": [0,200,400,600,800], "format": "d", "ticks": false, "labelOverlap": false, "labelPadding": 23, "titlePadding": 12}},
     "y": {"field": "T", "type": "quantitative", "scale": {"domain": [1000, 1600], "nice": false, "zero": false}, "axis": {"orient": "left", "values": [1050,1100,1150,1200,1250,1300,1350,1400,1450,1500,1550], "labels": false, "domain": false, "title": null, "ticks": true, "tickSize": 6, "offset": -6}},
     "color": {"field": "s", "type": "nominal", "legend": null}
    }},
   {"data": {"name": "tempB"}, "transform": [{"filter": "datum.s == 'sT'"}],
    "mark": {"type": "line", "strokeWidth": 1.6},
    "encoding": {
     "x": {"field": "t", "type": "quantitative", "axis": {"values": [0,50,100,150,200,250,300,350,400,450,500,550,600,650,700,750], "labels": false, "domain": false, "title": null, "ticks": true, "tickSize": 6, "offset": -6}},
     "y": {"field": "T", "type": "quantitative", "scale": {"domain": [1000, 1600], "nice": false, "zero": false}, "axis": null},
     "color": {"field": "s", "type": "nominal", "legend": null}
    }},
   {"data": {"values": [{"t":445,"t2":778,"T":1528,"T2":1596}]},
    "mark": {"type": "rect", "fill": "white", "stroke": "#151515", "strokeWidth": 1.5},
    "encoding": {
     "x": {"field": "t", "type": "quantitative", "axis": null}, "x2": {"field": "t2"},
     "y": {"field": "T", "type": "quantitative", "scale": {"domain": [1000, 1600], "nice": false, "zero": false}, "axis": null}, "y2": {"field": "T2"}
    }},
   {"data": {"values": [{"t":647,"T":1485,"label":"liquidus","s":"note"},{"t":647,"T":1415,"label":"solidus","s":"note"},{"t":570,"T":1257,"label":"simulated cooling rate","s":"sCR"},{"t":611,"T":1562,"label":"Plate B, TC-R","s":"note"}]},
    "mark": {"type": "text", "align": "center", "baseline": "middle"},
    "encoding": {
     "x": {"field": "t", "type": "quantitative", "axis": null},
     "y": {"field": "T", "type": "quantitative", "scale": {"domain": [1000, 1600], "nice": false, "zero": false}, "axis": null},
     "text": {"field": "label"},
     "color": {"field": "s", "type": "nominal", "legend": null}
    }},
   {"data": {"values": [{"t":331,"T":1347,"label":"measured","s":"note"},{"t":331,"T":1307,"label":"cooling rate","s":"note"}]},
    "mark": {"type": "text", "align": "left", "baseline": "middle"},
    "encoding": {
     "x": {"field": "t", "type": "quantitative", "axis": null},
     "y": {"field": "T", "type": "quantitative", "scale": {"domain": [1000, 1600], "nice": false, "zero": false}, "axis": null},
     "text": {"field": "label"},
     "color": {"field": "s", "type": "nominal", "legend": null}
    }},
   {"data": {"values": [{"t":414,"T":1072,"label":"measured temp.","s":"mT"},{"t":407,"T":1025,"label":"simulated temp.","s":"sT"}]},
    "mark": {"type": "text", "align": "right", "baseline": "middle"},
    "encoding": {
     "x": {"field": "t", "type": "quantitative", "axis": null},
     "y": {"field": "T", "type": "quantitative", "scale": {"domain": [1000, 1600], "nice": false, "zero": false}, "axis": null},
     "text": {"field": "label"},
     "color": {"field": "s", "type": "nominal", "legend": null}
    }},
   {"data": {"values": [{"t":306,"T":1276,"t2":306,"T2":1373,"s":"mCR"},{"t":306,"T":1373,"t2":556,"T2":1373,"s":"mCR"},{"t":403,"T":1192,"t2":403,"T2":1230,"s":"sCR"},{"t":403,"T":1230,"t2":635,"T2":1230,"s":"sCR"},{"t":421,"T":1072,"t2":461,"T2":1072,"s":"mT"},{"t":426,"T":1025,"t2":554,"T2":1025,"s":"sT"}]},
    "mark": {"type": "rule", "strokeWidth": 1.5},
    "encoding": {
     "x": {"field": "t", "type": "quantitative", "axis": null}, "x2": {"field": "t2"},
     "y": {"field": "T", "type": "quantitative", "scale": {"domain": [1000, 1600], "nice": false, "zero": false}, "axis": null}, "y2": {"field": "T2"},
     "color": {"field": "s", "type": "nominal", "legend": null}
    }},
   {"data": {"values": [{"t":551,"T":1373,"s":"mCR","dir":"right"},{"t":630,"T":1230,"s":"sCR","dir":"right"},{"t":426,"T":1072,"s":"mT","dir":"left"},{"t":431,"T":1025,"s":"sT","dir":"left"}]},
    "mark": {"type": "point", "filled": true, "opacity": 1, "size": 40},
    "encoding": {
     "x": {"field": "t", "type": "quantitative", "axis": null},
     "y": {"field": "T", "type": "quantitative", "scale": {"domain": [1000, 1600], "nice": false, "zero": false}, "axis": null},
     "shape": {"field": "dir", "type": "nominal", "legend": null, "scale": {"domain": ["right","left"], "range": ["triangle-right","triangle-left"]}},
     "color": {"field": "s", "type": "nominal", "legend": null}
    }},
   {"data": {"name": "crB"}, "transform": [{"filter": "datum.s == 'sCR'"}],
    "mark": {"type": "line", "strokeWidth": 1.8},
    "encoding": {
     "x": {"field": "t", "type": "quantitative", "axis": null},
     "y": {"field": "CR", "type": "quantitative", "scale": {"domain": [0, 2], "nice": false, "zero": false}, "axis": {"orient": "right", "title": "Cooling Rate (°C/s)", "titleAngle": 270, "titleBaseline": "top", "values": [0,0.5,1,1.5,2], "format": "~g", "ticks": false, "labelOverlap": false, "labelPadding": 12, "titlePadding": 27}},
     "color": {"field": "s", "type": "nominal", "legend": null}
    }},
   {"data": {"name": "crB"}, "transform": [{"filter": "datum.s == 'mCR'"}],
    "mark": {"type": "line", "strokeWidth": 2},
    "encoding": {
     "x": {"field": "t", "type": "quantitative", "axis": null},
     "y": {"field": "CR", "type": "quantitative", "scale": {"domain": [0, 2], "nice": false, "zero": false}, "axis": {"orient": "right", "values": [0.1,0.2,0.3,0.4,0.5,0.6,0.7,0.8,0.9,1,1.1,1.2,1.3,1.4,1.5,1.6,1.7,1.8,1.9], "labels": false, "domain": false, "title": null, "ticks": true, "tickSize": 6, "offset": -6}},
     "color": {"field": "s", "type": "nominal", "legend": null}
    }}
  ]
 }
]
}
